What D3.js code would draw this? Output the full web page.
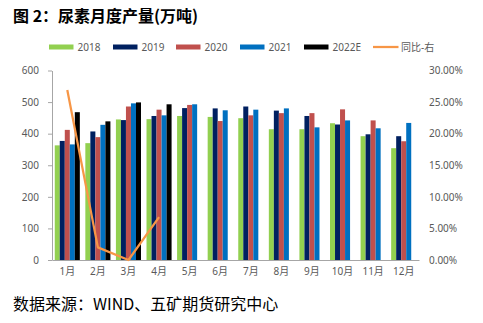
<!DOCTYPE html>
<html>
<head>
<meta charset="utf-8">
<script src="https://cdn.jsdelivr.net/npm/d3@7"></script>
<style>
  html, body { margin: 0; padding: 0; background: #fff; }
  svg { display: block; }
</style>
</head>
<body>
<script>
const months = ["1月","2月","3月","4月","5月","6月","7月","8月","9月","10月","11月","12月"];
const seriesNames = ["2018","2019","2020","2021","2022E"];
const seriesColors = ["#92D050","#002060","#C0504D","#0070C0","#000000"];
const v2018 = [363,370,445,446,456,453,449,414,414,433,392,354];
const v2019 = [377,407,443,456,481,480,486,473,456,429,398,392];
const v2020 = [412,389,486,476,491,440,458,465,465,477,442,376];
const v2021 = [366,428,496,458,493,474,476,480,420,442,417,434];
const v2022E = [468,439,499,493,null,null,null,null,null,null,null,null];
const yoy = [26.9, 2.0, 0.0, 6.8];
const yoyName = "同比-右";
const leftTicks = [0,100,200,300,400,500,600];
const rightTicks = [0,5,10,15,20,25,30];
const titleText = "图 2：尿素月度产量(万吨)";
const sourceText = "数据来源：WIND、五矿期货研究中心";

const allSeries = [v2018, v2019, v2020, v2021, v2022E];
const W = 483, H = 323;
const font = "'Noto Sans', 'Noto Sans CJK SC', sans-serif";
const svg = d3.select("body").append("svg").attr("width", W).attr("height", H);

const x0 = 52, x1 = 419, yTop = 70.5, yBot = 260;
const x = d3.scaleBand().domain(months).range([x0, x1]).paddingInner(0.18).paddingOuter(0.09);
const xs = d3.scaleBand().domain(seriesNames).range([0, x.bandwidth()]);
const y = d3.scaleLinear().domain([0, 600]).range([yBot, yTop]);
const yr = d3.scaleLinear().domain([0, 30]).range([yBot, yTop]);

// title
svg.append("text").attr("x", 13).attr("y", 22)
  .attr("font-family", "'Noto Sans CJK SC', sans-serif").attr("font-weight", "bold")
  .attr("font-size", 16).attr("fill", "#000").text(titleText);

// bars
seriesNames.forEach((name, si) => {
  const data = months.map((m, i) => ({m, v: allSeries[si][i]})).filter(d => d.v != null);
  svg.append("g").selectAll("rect").data(data).join("rect")
    .attr("x", d => x(d.m) + xs(name))
    .attr("width", xs.bandwidth())
    .attr("y", d => y(d.v))
    .attr("height", d => y(0) - y(d.v))
    .attr("fill", seriesColors[si]);
});

// left axis
const gl = svg.append("g").attr("transform", `translate(${x0},0)`)
  .call(d3.axisLeft(y).tickValues(leftTicks).tickSize(4).tickSizeOuter(0).tickPadding(9));
gl.select(".domain").attr("stroke", "#A6A6A6");
gl.selectAll(".tick line").attr("stroke", "#A6A6A6");
gl.selectAll("text").attr("fill", "#595959").attr("font-size", 10).attr("font-family", font);

// right axis
const gr = svg.append("g").attr("transform", `translate(${x1},0)`)
  .call(d3.axisRight(yr).tickValues(rightTicks).tickSize(0).tickPadding(10).tickFormat(d => d.toFixed(2) + "%"));
gr.select(".domain").remove();
gr.selectAll("text").attr("fill", "#595959").attr("font-size", 10).attr("font-family", font);

// bottom axis
const gb = svg.append("g").attr("transform", `translate(0,${yBot})`)
  .call(d3.axisBottom(x).tickSize(0).tickPadding(8));
gb.select(".domain").attr("stroke", "#A6A6A6");
gb.selectAll("text").attr("fill", "#595959").attr("font-size", 10).attr("font-family", font);

// yoy line
const line = d3.line().x((d, i) => x(months[i]) + x.bandwidth() / 2).y(d => yr(d));
svg.append("path").datum(yoy).attr("d", line)
  .attr("fill", "none").attr("stroke", "#F79646").attr("stroke-width", 2.25).attr("stroke-linejoin", "round");

// legend
const legendX = [49, 113, 176, 240, 304];
const lg = svg.append("g");
seriesNames.forEach((name, i) => {
  lg.append("rect").attr("x", legendX[i]).attr("y", 44.5).attr("width", 24.5).attr("height", 5).attr("fill", seriesColors[i]);
  lg.append("text").attr("x", legendX[i] + 28.5).attr("y", 51).attr("font-size", 10)
    .attr("font-family", font).attr("fill", "#595959").text(name);
});
lg.append("line").attr("x1", 373).attr("x2", 398.5).attr("y1", 47).attr("y2", 47)
  .attr("stroke", "#F79646").attr("stroke-width", 2.25);
lg.append("text").attr("x", 401).attr("y", 51).attr("font-size", 10)
  .attr("font-family", font).attr("fill", "#595959").text(yoyName);

// source
svg.append("text").attr("x", 13).attr("y", 310)
  .attr("font-family", "'Noto Sans CJK SC', sans-serif")
  .attr("font-size", 16).attr("fill", "#000").text(sourceText);
</script>
</body>
</html>
